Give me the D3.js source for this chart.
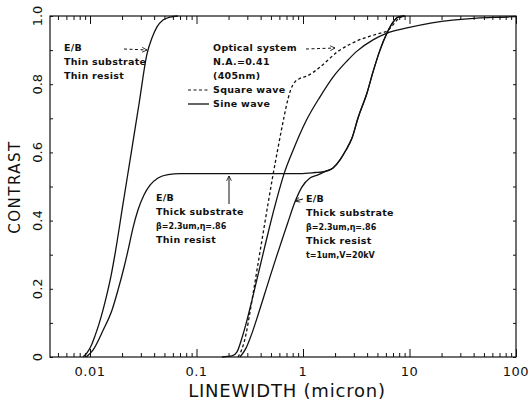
<!DOCTYPE html>
<html>
<head>
<meta charset="utf-8">
<script src="https://cdnjs.cloudflare.com/ajax/libs/d3/7.8.5/d3.min.js"></script>
<style>
  html, body { margin: 0; padding: 0; background: #fff; }
  #chart { width: 528px; height: 408px; }
  text { font-family: "DejaVu Sans", sans-serif; fill: #111; }
  .note { font-weight: bold; font-size: 9.5px; letter-spacing: 0.3px; }
  .small { font-weight: bold; font-size: 8px; }
</style>
</head>
<body>
<div id="chart"></div>
<script>
// contrast vs linewidth, E/B and optical

var xTickValues = [0.01, 0.1, 1, 10, 100];
var xTickLabels = ["0.01", "0.1", "1", "10", "100"];
var yTickValues = [0, 0.2, 0.4, 0.6, 0.8, 1.0];
var yTickLabels = ["0", "0.2", "0.4", "0.6", "0.8", "1.0"];

// E/B thin substrate, thin resist
var thinSubThinResist = [[0.0086,0],[0.00937,0.012],[0.01022,0.032],[0.01114,0.062],[0.01215,0.097],
  [0.01325,0.138],[0.01444,0.185],[0.01575,0.238],[0.01717,0.302],[0.02041,0.449],[0.02427,0.595],
  [0.02885,0.742],[0.03429,0.889],[0.03822,0.936],[0.04257,0.968],[0.04846,0.988],[0.05638,0.997],
  [0.06706,1.0]];

// shared rise of the two thick substrate curves
var thickSubRise = [[1.609,0.544],[1.913,0.554],[2.226,0.578],[2.533,0.607],[2.885,0.642],
  [3.284,0.701],[3.990,0.774],[4.543,0.836],[5.284,0.900],[6.147,0.950],[7.001,0.982],
  [7.798,0.997],[9.07,1.0]];

// E/B thick substrate, thin resist (plateau)
var thickSubThinResist = [[0.0092,0],[0.0107,0.021],[0.0133,0.079],[0.0161,0.138],[0.0183,0.196],
  [0.0209,0.264],[0.0228,0.314],[0.0253,0.378],[0.0282,0.431],[0.0321,0.475],[0.0366,0.504],
  [0.0435,0.525],[0.054,0.535],[0.070,0.538],[0.937,0.538],[1.297,0.541]].concat(thickSubRise);

// E/B thick substrate, thick resist
var thickSubThickResist = [[0.2562,0],[0.2916,0.026],[0.3320,0.070],[0.3779,0.123],[0.4303,0.179],
  [0.4898,0.235],[0.5577,0.290],[0.6351,0.343],[0.7232,0.396],[0.8411,0.455],[0.9786,0.499],
  [1.163,0.525],[1.383,0.534]].concat(thickSubRise);

// optical, square wave
var squareWave = [[0.2453,0],[0.2675,0.024],[0.2916,0.067],[0.3179,0.132],[0.3467,0.202],
  [0.3779,0.273],[0.4211,0.361],[0.4692,0.449],[0.5228,0.534],[0.5825,0.613],[0.6490,0.689],
  [0.7232,0.757],[0.7715,0.786],[0.8411,0.807],[0.9371,0.817],[1.090,0.824],[1.444,0.850],
  [2.085,0.894],[3.214,0.927],[4.953,0.947],[6.147,0.956],[7.001,0.974],[7.798,0.991],[8.878,1.0]];

// optical, sine wave
var sineWave = [[0.1735,0],[0.2154,0.003],[0.2401,0.015],[0.2618,0.047],[0.2916,0.097],
  [0.3320,0.167],[0.3779,0.241],[0.4303,0.314],[0.4898,0.387],[0.5700,0.466],[0.6632,0.537],
  [0.8234,0.613],[1.067,0.692],[1.444,0.763],[1.913,0.821],[2.588,0.868],[3.214,0.897],
  [4.543,0.930],[6.147,0.950],[9.474,0.965],[16.27,0.980],[43.03,0.994],[82.3,0.997],[100,0.9985]];

var chartDiv = document.getElementById("chart");
var svg = d3.select(chartDiv).append("svg")
  .attr("width", 528)
  .attr("height", 408);

var plotLeft = 50, plotRight = 516, plotTop = 16, plotBottom = 357;

var xScale = d3.scaleLog()
  .domain([0.00421, 100])
  .range([plotLeft, plotRight]);

var yScale = d3.scaleLinear()
  .domain([0, 1])
  .range([plotBottom, plotTop]);

// minor x ticks 2..9 in each decade
var minorX = [];
for (var p = -3; p <= 1; p++) {
  for (var k = 2; k <= 9; k++) {
    var v = k * Math.pow(10, p);
    if (v > 0.00421 && v < 100) minorX.push(v);
  }
}
var minorY = d3.range(0, 1.01, 0.1);

function tickAxis(axis, vals, size, tx, ty) {
  var g = svg.append("g")
    .attr("transform", "translate(" + tx + "," + ty + ")")
    .call(axis.tickValues(vals).tickSize(size).tickFormat(""));
  g.select(".domain").remove();
  g.selectAll("line").attr("stroke", "#111").attr("stroke-width", 1);
  return g;
}

tickAxis(d3.axisBottom(xScale), minorX, -4, 0, plotBottom);
tickAxis(d3.axisBottom(xScale), xTickValues, -8, 0, plotBottom);
tickAxis(d3.axisTop(xScale), minorX, -4, 0, plotTop);
tickAxis(d3.axisTop(xScale), xTickValues, -8, 0, plotTop);
tickAxis(d3.axisLeft(yScale), minorY, -3, plotLeft, 0);
tickAxis(d3.axisRight(yScale), minorY, -3, plotRight, 0);

// frame
svg.append("rect")
  .attr("x", plotLeft).attr("y", plotTop)
  .attr("width", plotRight - plotLeft).attr("height", plotBottom - plotTop)
  .attr("fill", "none").attr("stroke", "#111").attr("stroke-width", 1.2);

// tick labels
svg.selectAll(".xlab")
  .data(xTickValues)
  .enter().append("text")
    .attr("x", function(d) { return xScale(d); })
    .attr("y", 376)
    .attr("text-anchor", "middle")
    .style("font-size", "13px")
    .style("letter-spacing", "0.5px")
    .text(function(d, i) { return xTickLabels[i]; });

svg.selectAll(".ylab")
  .data(yTickValues)
  .enter().append("text")
    .attr("transform", function(d) { return "translate(42," + yScale(d) + ") rotate(-90)"; })
    .attr("text-anchor", "middle")
    .style("font-size", "13px")
    .text(function(d, i) { return yTickLabels[i]; });

// axis titles
svg.append("text")
  .attr("x", 287).attr("y", 397)
  .attr("text-anchor", "middle")
  .style("font-size", "18px")
  .style("letter-spacing", "0.8px")
  .text("LINEWIDTH (micron)");

svg.append("text")
  .attr("transform", "translate(20,187) rotate(-90)")
  .attr("text-anchor", "middle")
  .style("font-size", "15px")
  .style("letter-spacing", "1.5px")
  .text("CONTRAST");

// curves
var line = d3.line()
  .x(function(d) { return xScale(d[0]); })
  .y(function(d) { return yScale(d[1]); })
  .curve(d3.curveMonotoneX);

var curves = [
  { data: thinSubThinResist, dash: null },
  { data: thickSubThinResist, dash: null },
  { data: thickSubThickResist, dash: null },
  { data: sineWave, dash: null },
  { data: squareWave, dash: "3,2.5" }
];

svg.selectAll(".curve")
  .data(curves)
  .enter().append("path")
    .attr("class", "curve")
    .attr("d", function(d) { return line(d.data); })
    .attr("fill", "none")
    .attr("stroke", "#111")
    .attr("stroke-width", 1.3)
    .attr("stroke-dasharray", function(d) { return d.dash; });

// arrowheads
var defs = svg.append("defs");
defs.append("marker")
  .attr("id", "head")
  .attr("viewBox", "0 0 10 10")
  .attr("refX", 9).attr("refY", 5)
  .attr("markerWidth", 6).attr("markerHeight", 6)
  .attr("orient", "auto")
  .append("path")
    .attr("d", "M1,1 L9,5 L1,9")
    .attr("fill", "none")
    .attr("stroke", "#111")
    .attr("stroke-width", 1.4);

function note(x, y, lines) {
  lines.forEach(function(l, i) {
    svg.append("text")
      .attr("class", l.small ? "small" : "note")
      .attr("x", x).attr("y", y + i * 14)
      .text(l.t);
  });
}

function arrow(x1, y1, x2, y2, dash) {
  svg.append("line")
    .attr("x1", x1).attr("y1", y1).attr("x2", x2).attr("y2", y2)
    .attr("stroke", "#111").attr("stroke-width", 1)
    .attr("stroke-dasharray", dash)
    .attr("marker-end", "url(#head)");
}

note(64, 51, [{t: "E/B"}, {t: "Thin substrate"}, {t: "Thin resist"}]);
arrow(124, 49, 147, 50, "3,2.5");

note(213, 51, [{t: "Optical system"}, {t: "N.A.=0.41"}, {t: "(405nm)"}, {t: "Square wave"}, {t: "Sine wave"}]);
arrow(306, 49, 335, 48, "3,2.5");

// legend samples
svg.append("line")
  .attr("x1", 188).attr("x2", 209).attr("y1", 90).attr("y2", 90)
  .attr("stroke", "#111").attr("stroke-width", 1.2).attr("stroke-dasharray", "3,2.5");
svg.append("line")
  .attr("x1", 188).attr("x2", 209).attr("y1", 104).attr("y2", 104)
  .attr("stroke", "#111").attr("stroke-width", 1.3);

note(156, 201, [{t: "E/B"}, {t: "Thick substrate"}, {t: "\u03b2=2.3um,\u03b7=.86", small: true}, {t: "Thin resist"}]);
arrow(229, 204, 229, 176, null);

note(306, 202, [{t: "E/B"}, {t: "Thick substrate"}, {t: "\u03b2=2.3um,\u03b7=.86", small: true}, {t: "Thick resist"}, {t: "t=1um,V=20kV", small: true}]);
arrow(303, 199, 295, 201, null);
</script>
</body>
</html>
